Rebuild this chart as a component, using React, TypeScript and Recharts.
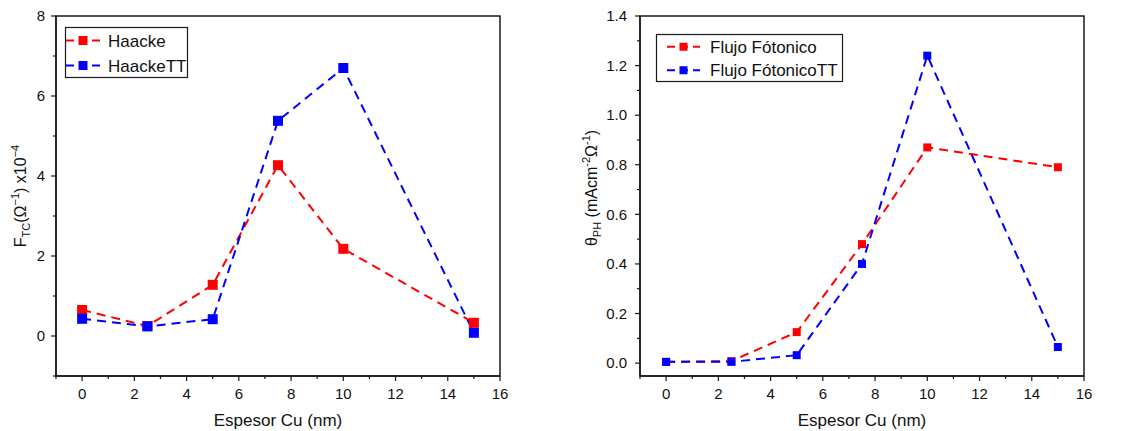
import { LineChart, Line, XAxis, YAxis, ReferenceArea } from 'recharts';

// Espesor Cu (nm)
const espesor = [0, 2.5, 5, 7.5, 10, 15];

// left panel: F_TC x10^-4
const haacke = [0.65, 0.25, 1.28, 4.27, 2.18, 0.33];
const haackeTT = [0.43, 0.24, 0.42, 5.38, 6.7, 0.08];

// right panel: theta_PH
const flujo = [0.005, 0.008, 0.125, 0.48, 0.87, 0.79];
const flujoTT = [0.005, 0.005, 0.032, 0.4, 1.24, 0.065];

const xTicks = [-1, 0, 1, 2, 3, 4, 5, 6, 7, 8, 9, 10, 11, 12, 13, 14, 15, 16];
const yTicksLeft = [-1, 0, 1, 2, 3, 4, 5, 6, 7, 8];
const yTicksRight = [0, 0.1, 0.2, 0.3, 0.4, 0.5, 0.6, 0.7, 0.8, 0.9, 1.0, 1.1, 1.2, 1.3, 1.4];

const leftData = espesor.map((x, i) => ({ x, haacke: haacke[i], haackeTT: haackeTT[i] }));
const rightData = espesor.map((x, i) => ({ x, flujo: flujo[i], flujoTT: flujoTT[i] }));

const RED = '#ff0000';
const BLUE = '#0000ff';
const AXIS = '#1a1a1a';
const FONT = '"Liberation Sans", Arial, sans-serif';

const XTick = ({ x, y, payload }: any) => {
  const major = payload.value % 2 === 0;
  return (
    <g>
      <line x1={x} x2={x} y1={y} y2={y + (major ? 5 : 3)} stroke={AXIS} strokeWidth={1.2} />
      {major && (
        <text x={x} y={y + 23} textAnchor="middle" fontSize={15} fill="#111" fontFamily={FONT}>
          {payload.value}
        </text>
      )}
    </g>
  );
};

const makeYTick = (isMajor: (v: number) => boolean, fmt: (v: number) => string, gap: number) =>
  ({ x, y, payload }: any) => {
    const major = isMajor(payload.value);
    return (
      <g>
        <line x1={x} x2={x - (major ? 5 : 3)} y1={y} y2={y} stroke={AXIS} strokeWidth={1.2} />
        {major && (
          <text x={x - gap} y={y} dy="0.35em" textAnchor="end" fontSize={15} fill="#111" fontFamily={FONT}>
            {fmt(payload.value)}
          </text>
        )}
      </g>
    );
  };

const LeftYTick = makeYTick((v) => v % 2 === 0, (v) => String(v), 11);
const RightYTick = makeYTick((v) => Math.round(v * 10) % 2 === 0, (v) => v.toFixed(1), 13);

const square = (size: number, color: string) => (p: any) => (
  <rect
    key={`sq-${p.index}`}
    x={p.cx - size / 2}
    y={p.cy - size / 2}
    width={size}
    height={size}
    fill={color}
  />
);

const LeftYLabel = () => (
  <text
    x={26}
    y={196}
    transform="rotate(-90 26 196)"
    textAnchor="middle"
    fontSize={16}
    fill="#111"
    fontFamily={FONT}
  >
    F<tspan fontSize={11} dy={4}>TC</tspan>
    <tspan dy={-4}>(Ω</tspan>
    <tspan fontSize={11} dy={-7}>−1</tspan>
    <tspan dy={7}>) x10</tspan>
    <tspan fontSize={11} dy={-7}>−4</tspan>
  </text>
);

const RightYLabel = () => (
  <text
    x={27}
    y={188}
    transform="rotate(-90 27 188)"
    textAnchor="middle"
    fontSize={16}
    fill="#111"
    fontFamily={FONT}
  >
    θ<tspan fontSize={11} dy={4}>PH</tspan>
    <tspan dy={-4}> (mAcm</tspan>
    <tspan fontSize={11} dy={-7}>-2</tspan>
    <tspan dy={7}>Ω</tspan>
    <tspan fontSize={11} dy={-7}>-1</tspan>
    <tspan dy={7}>)</tspan>
  </text>
);

type LegendItem = { name: string; color: string };

const LegendBox = ({
  items,
  left,
  top,
  width,
  height,
  lineX1,
  lineX2,
  textX,
  marker,
}: {
  items: LegendItem[];
  left: number;
  top: number;
  width: number;
  height: number;
  lineX1: number;
  lineX2: number;
  textX: number;
  marker: number;
}) => {
  const rowH = height / items.length;
  return (
    <svg
      width={width + 2}
      height={height + 2}
      style={{ position: 'absolute', left, top, overflow: 'visible' }}
    >
      <rect x={0.5} y={0.5} width={width} height={height} fill="#fff" stroke={AXIS} strokeWidth={1.2} />
      {items.map((it, i) => {
        const cy = rowH * i + rowH / 2 + 1;
        const mid = (lineX1 + lineX2) / 2;
        return (
          <g key={it.name}>
            <line x1={lineX1} x2={lineX2} y1={cy} y2={cy} stroke={it.color} strokeWidth={2} strokeDasharray="8 5" />
            <rect x={mid - marker / 2} y={cy - marker / 2} width={marker} height={marker} fill={it.color} />
            <text x={textX} y={cy} dy="0.36em" fontSize={17} fill="#111" fontFamily={FONT}>
              {it.name}
            </text>
          </g>
        );
      })}
    </svg>
  );
};

export default function App() {
  return (
    <div style={{ position: 'absolute', left: 0, top: 0, width: 1130, height: 431, background: '#fff', fontFamily: FONT }}>
      <div style={{ position: 'absolute', left: 0, top: 0 }}>
        <LineChart width={565} height={431} data={leftData} margin={{ top: 16, right: 65, bottom: 0, left: 0 }}>
          <XAxis
            dataKey="x"
            type="number"
            domain={[-1, 16]}
            ticks={xTicks}
            interval={0}
            tick={XTick}
            tickLine={false}
            tickSize={0}
            tickMargin={0}
            height={55}
            stroke={AXIS}
            strokeWidth={1.5}
            allowDataOverflow
            label={{ value: 'Espesor Cu (nm)', position: 'insideBottom', offset: 5, fontSize: 17, fill: '#111' }}
          />
          <YAxis
            type="number"
            domain={[-1, 8]}
            ticks={yTicksLeft}
            interval={0}
            tick={LeftYTick}
            tickLine={false}
            tickSize={0}
            tickMargin={0}
            width={56}
            stroke={AXIS}
            strokeWidth={1.5}
            allowDataOverflow
          />
          <ReferenceArea x1={-1} x2={16} y1={-1} y2={8} fill="none" stroke={AXIS} strokeWidth={1.5} ifOverflow="visible" />
          <Line
            dataKey="haacke"
            name="Haacke"
            type="linear"
            stroke={RED}
            strokeWidth={2}
            strokeDasharray="9 6"
            dot={square(10, RED)}
            activeDot={false}
            isAnimationActive={false}
          />
          <Line
            dataKey="haackeTT"
            name="HaackeTT"
            type="linear"
            stroke={BLUE}
            strokeWidth={2}
            strokeDasharray="9 6"
            dot={square(10, BLUE)}
            activeDot={false}
            isAnimationActive={false}
          />
        </LineChart>
        <svg width={60} height={431} style={{ position: 'absolute', left: 0, top: 0 }}>
          <LeftYLabel />
        </svg>
        <LegendBox
          items={[
            { name: 'Haacke', color: RED },
            { name: 'HaackeTT', color: BLUE },
          ]}
          left={65}
          top={27}
          width={122}
          height={50}
          lineX1={1}
          lineX2={35}
          textX={43}
          marker={9}
        />
      </div>
      <div style={{ position: 'absolute', left: 570, top: 0 }}>
        <LineChart width={560} height={431} data={rightData} margin={{ top: 16, right: 46, bottom: 0, left: 0 }}>
          <XAxis
            dataKey="x"
            type="number"
            domain={[-1, 16]}
            ticks={xTicks}
            interval={0}
            tick={XTick}
            tickLine={false}
            tickSize={0}
            tickMargin={0}
            height={55}
            stroke={AXIS}
            strokeWidth={1.5}
            allowDataOverflow
            label={{ value: 'Espesor Cu (nm)', position: 'insideBottom', offset: 5, fontSize: 17, fill: '#111' }}
          />
          <YAxis
            type="number"
            domain={[-0.052, 1.4]}
            ticks={yTicksRight}
            interval={0}
            tick={RightYTick}
            tickLine={false}
            tickSize={0}
            tickMargin={0}
            width={70}
            stroke={AXIS}
            strokeWidth={1.5}
            allowDataOverflow
          />
          <ReferenceArea x1={-1} x2={16} y1={-0.052} y2={1.4} fill="none" stroke={AXIS} strokeWidth={1.5} ifOverflow="visible" />
          <Line
            dataKey="flujo"
            name="Flujo Fótonico"
            type="linear"
            stroke={RED}
            strokeWidth={2}
            strokeDasharray="9 6"
            dot={square(8, RED)}
            activeDot={false}
            isAnimationActive={false}
          />
          <Line
            dataKey="flujoTT"
            name="Flujo FótonicoTT"
            type="linear"
            stroke={BLUE}
            strokeWidth={2}
            strokeDasharray="9 6"
            dot={square(8, BLUE)}
            activeDot={false}
            isAnimationActive={false}
          />
        </LineChart>
        <svg width={60} height={431} style={{ position: 'absolute', left: 0, top: 0 }}>
          <RightYLabel />
        </svg>
        <LegendBox
          items={[
            { name: 'Flujo Fótonico', color: RED },
            { name: 'Flujo FótonicoTT', color: BLUE },
          ]}
          left={86}
          top={34}
          width={186}
          height={47}
          lineX1={11}
          lineX2={44}
          textX={54}
          marker={8}
        />
      </div>
    </div>
  );
}
